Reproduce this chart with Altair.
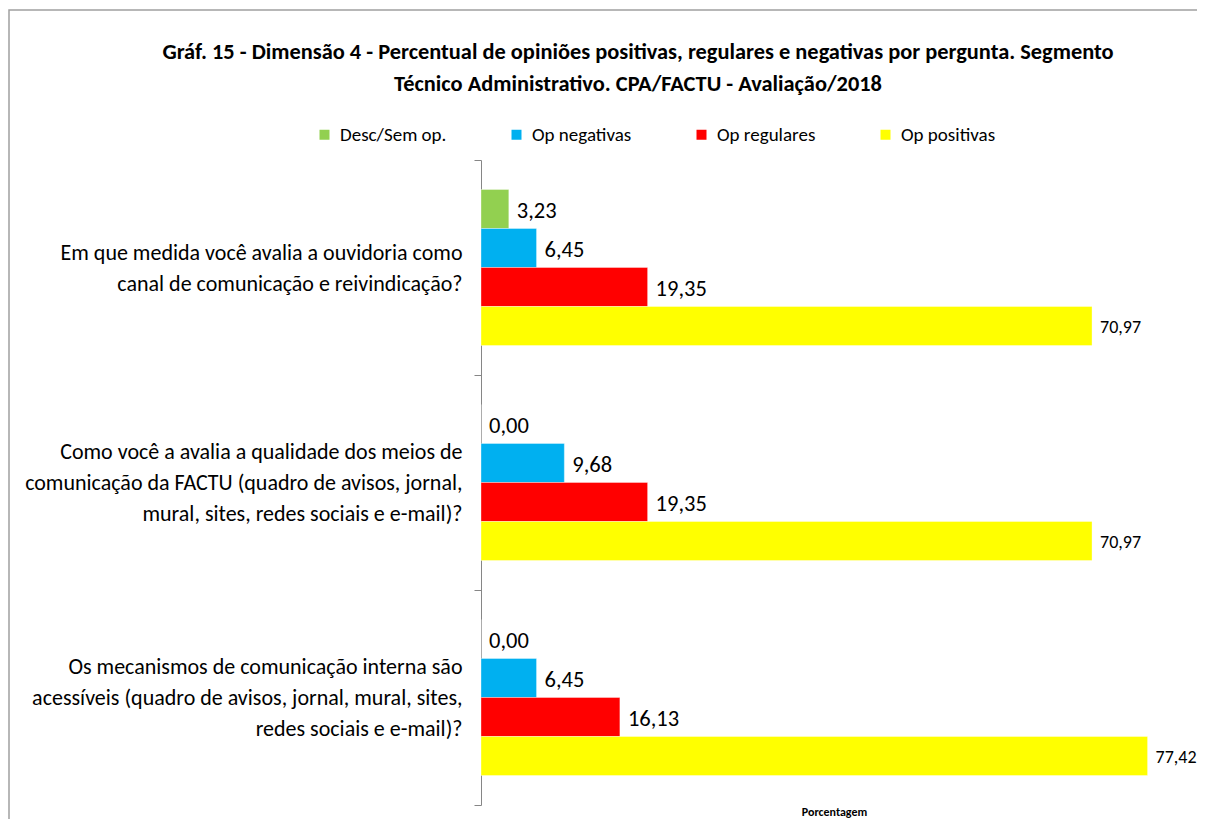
import altair as alt
import pandas as pd

questions = [
    "Em que medida você avalia a ouvidoria como|canal de comunicação e reivindicação?",
    "Como você a avalia a qualidade dos meios de|comunicação da FACTU (quadro de avisos, jornal,|mural, sites, redes sociais e e-mail)?",
    "Os mecanismos de comunicação interna são|acessíveis (quadro de avisos, jornal, mural, sites,|redes sociais e e-mail)?",
]
series = ["Desc/Sem op.", "Op negativas", "Op regulares", "Op positivas"]
colors = ["#92D050", "#00B0F0", "#FF0000", "#FFFF00"]
desc = [3.23, 0.00, 0.00]
neg = [6.45, 9.68, 6.45]
reg = [19.35, 19.35, 16.13]
pos = [70.97, 70.97, 77.42]
title_lines = [
    "Gráf. 15 - Dimensão 4 - Percentual de opiniões positivas, regulares e negativas por pergunta. Segmento",
    "Técnico Administrativo. CPA/FACTU - Avaliação/2018",
]

rows = []
for i, q in enumerate(questions):
    for s, vals in zip(series, [desc, neg, reg, pos]):
        rows.append({"pergunta": q, "serie": s, "valor": vals[i],
                     "rotulo": f"{vals[i]:.2f}".replace(".", ",")})
df = pd.DataFrame(rows)

FONT = "Carlito, Calibri, Lato, sans-serif"

y_enc = alt.Y(
    "pergunta:N", sort=questions,
    scale=alt.Scale(paddingInner=0, paddingOuter=0),
    axis=alt.Axis(title=None, labelExpr="split(datum.label, '|')", labelFont=FONT,
                  labelFontSize=22, labelColor="#000", labelLineHeight=31, labelPadding=12,
                  labelAlign="right", labelBaseline="middle", labelLimit=0,
                  labelOffset={"condition": {"test": "length(split(datum.value, '|')) == 2",
                                             "value": -15.5},
                               "value": -31},
                  tickBand="extent", tickSize=7, tickColor="#868686", domainColor="#868686",
                  grid=False),
)
yoff = alt.YOffset("serie:N", sort=series, scale=alt.Scale(paddingInner=0, paddingOuter=0.756))
x_enc = alt.X(
    "valor:Q", scale=alt.Scale(domain=[0, 82], nice=False, zero=True),
    axis=alt.Axis(title="Porcentagem", labels=False, ticks=False, domain=False, grid=False,
                  titleFont=FONT, titleFontSize=12, titleFontWeight="bold", titleColor="#000",
                  titlePadding=1),
)

bars = alt.Chart(df).mark_bar(stroke="#ffffff", strokeWidth=0.6, strokeOpacity=0.6).encode(
    x=x_enc, y=y_enc, yOffset=yoff,
    color=alt.Color("serie:N", sort=series, scale=alt.Scale(domain=series, range=colors),
                    legend=alt.Legend(orient="none", legendX=-166, legendY=-35,
                                      direction="horizontal", title=None, symbolType="square",
                                      symbolSize=100, symbolStrokeWidth=0, labelFont=FONT,
                                      labelFontSize=19, labelColor="#000", labelOffset=6,
                                      columnPadding=60)),
)

labels = alt.Chart(df).mark_text(align="left", baseline="middle", dx=8, dy=2, font=FONT,
                                 color="#000").encode(
    x=alt.X("valor:Q"), y=alt.Y("pergunta:N", sort=questions), yOffset=alt.YOffset("serie:N", sort=series),
    text="rotulo:N",
    size=alt.condition(alt.datum.serie == "Op positivas", alt.value(18), alt.value(22.5)),
)

title = alt.Chart(alt.Data(values=[{}])).mark_text(
    font=FONT, fontSize=22.4, fontWeight="bold", lineHeight=32, align="center",
    baseline="middle", color="#000").encode(
    x=alt.value(157), y=alt.value(-108), text=alt.value(title_lines))

frame = alt.Chart(alt.Data(values=[{}])).mark_rect(
    filled=False, stroke="#a0a0a0", strokeWidth=1.5).encode(
    x=alt.value(-472), x2=alt.value(800), y=alt.value(-150), y2=alt.value(720))

chart = alt.layer(frame, bars, labels, title).properties(
    width=706, height=645,
    autosize=alt.AutoSizeParams(type="none"),
    padding={"left": 473, "top": 152, "right": 10, "bottom": 14},
).configure_view(stroke=None)

chart.save("out.html", embed_options={"renderer": "svg", "actions": False})
